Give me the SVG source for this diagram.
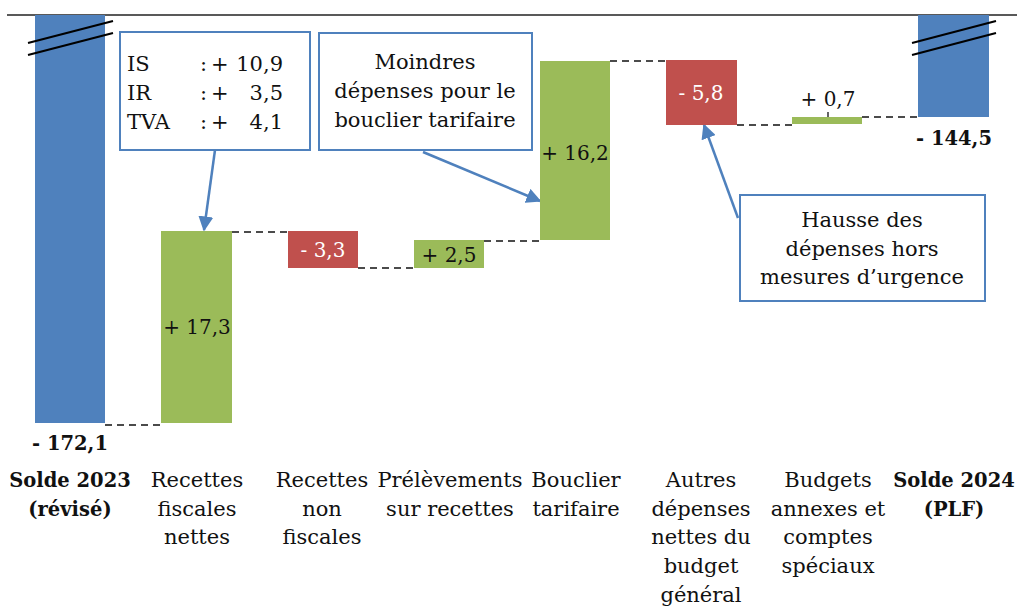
<svg xmlns="http://www.w3.org/2000/svg" width="1017" height="608" viewBox="0 0 1017 608">
<style>
text{font-family:"DejaVu Serif","Liberation Serif",serif;font-size:21px;fill:#111}
.v{font-size:20px}
.c{text-anchor:middle}
.b{font-weight:bold;font-size:19.5px}
.w{fill:#fff}
.blue{fill:#4F81BD}
.green{fill:#9BBB59}
.red{fill:#C0504D}
.dash{stroke:#111;stroke-width:1.3;stroke-dasharray:7,5;fill:none}
.brk{stroke:#000;stroke-width:2.2}
.box{fill:#fff;stroke:#4F81BD;stroke-width:2}
.arr{stroke:#4F81BD;stroke-width:2.5;fill:none;marker-end:url(#ah)}
</style>
<defs>
<marker id="ah" viewBox="0 0 10 10" refX="9" refY="5" markerWidth="6" markerHeight="6" orient="auto" markerUnits="strokeWidth">
<path d="M0,0 L10,5 L0,10 z" fill="#4F81BD"/>
</marker>
</defs>
<rect width="1017" height="608" fill="#fff"/>
<line x1="7" y1="15" x2="1017" y2="15" stroke="#222" stroke-width="1.5"/>

<g id="connectors">
<line class="dash" x1="105" y1="425" x2="161" y2="425"/>
<line class="dash" x1="232" y1="232" x2="288" y2="232"/>
<line class="dash" x1="358" y1="268" x2="414" y2="268"/>
<line class="dash" x1="484" y1="241" x2="540" y2="241"/>
<line class="dash" x1="610" y1="61" x2="666" y2="61"/>
<line class="dash" x1="737" y1="125" x2="792" y2="125"/>
<line class="dash" x1="862" y1="117" x2="918" y2="117"/>
<line x1="828" y1="112" x2="828" y2="120" stroke="#111" stroke-width="1.3"/>
<line class="arr" x1="215" y1="150" x2="204" y2="230"/>
<line class="arr" x1="423" y1="152" x2="540" y2="201"/>
<line class="arr" x1="738" y1="218" x2="704" y2="125"/>
</g>

<g id="bar-solde2023">
<rect class="blue" x="35" y="15" width="70" height="408"/>
<line class="brk" x1="28" y1="43" x2="113" y2="21"/>
<line class="brk" x1="28" y1="55" x2="113" y2="33"/>
<text class="c b" x="70" y="450">- 172,1</text>
<text class="c b" x="70" y="487">Solde 2023</text>
<text class="c b" x="70" y="516">(révisé)</text>
</g>

<g id="bar-recettes-fiscales">
<rect class="green" x="161" y="231" width="71" height="192"/>
<text class="c v" x="197" y="334">+ 17,3</text>
<text class="c" x="197" y="487">Recettes</text>
<text class="c" x="197" y="516">fiscales</text>
<text class="c" x="197" y="544">nettes</text>
</g>

<g id="bar-recettes-non-fiscales">
<rect class="red" x="288" y="231" width="70" height="37"/>
<text class="c w v" x="323" y="257">- 3,3</text>
<text class="c" x="322" y="487">Recettes</text>
<text class="c" x="322" y="516">non</text>
<text class="c" x="322" y="544">fiscales</text>
</g>

<g id="bar-prelevements">
<rect class="green" x="414" y="240" width="70" height="28"/>
<text class="c v" x="449" y="262">+ 2,5</text>
<text class="c" x="450" y="487">Prélèvements</text>
<text class="c" x="450" y="516">sur recettes</text>
</g>

<g id="bar-bouclier">
<rect class="green" x="540" y="61" width="70" height="179"/>
<text class="c v" x="575" y="160">+ 16,2</text>
<text class="c" x="576" y="487">Bouclier</text>
<text class="c" x="576" y="516">tarifaire</text>
</g>

<g id="bar-autres-depenses">
<rect class="red" x="666" y="60" width="71" height="65"/>
<text class="c w v" x="701" y="100">- 5,8</text>
<text class="c" x="701" y="487">Autres</text>
<text class="c" x="701" y="516">dépenses</text>
<text class="c" x="701" y="544">nettes du</text>
<text class="c" x="701" y="573">budget</text>
<text class="c" x="701" y="602">général</text>
</g>

<g id="bar-budgets-annexes">
<rect class="green" x="792" y="117" width="70" height="7"/>
<text class="c v" x="828" y="106">+ 0,7</text>
<text class="c" x="828" y="487">Budgets</text>
<text class="c" x="828" y="516">annexes et</text>
<text class="c" x="828" y="544">comptes</text>
<text class="c" x="828" y="573">spéciaux</text>
</g>

<g id="bar-solde2024">
<rect class="blue" x="918" y="15" width="71" height="102"/>
<line class="brk" x1="912" y1="43" x2="996" y2="21"/>
<line class="brk" x1="912" y1="55" x2="996" y2="33"/>
<text class="c b" x="954" y="145">- 144,5</text>
<text class="c b" x="954" y="487">Solde 2024</text>
<text class="c b" x="954" y="516">(PLF)</text>
</g>

<g id="callout-impots">
<rect class="box" x="120" y="32" width="190" height="118"/>
<text x="127" y="71">IS</text>
<text x="127" y="100">IR</text>
<text x="127" y="129">TVA</text>
<text x="200" y="71">:</text>
<text x="200" y="100">:</text>
<text x="200" y="129">:</text>
<text x="211" y="71">+</text>
<text x="211" y="100">+</text>
<text x="211" y="129">+</text>
<text x="283" y="71" text-anchor="end">10,9</text>
<text x="283" y="100" text-anchor="end">3,5</text>
<text x="283" y="129" text-anchor="end">4,1</text>
</g>

<g id="callout-bouclier">
<rect class="box" x="319" y="33" width="213" height="117"/>
<text class="c" x="425" y="69">Moindres</text>
<text class="c" x="425" y="98">dépenses pour le</text>
<text class="c" x="425" y="127">bouclier tarifaire</text>
</g>

<g id="callout-hausse">
<rect class="box" x="740" y="195" width="245" height="106"/>
<text class="c" x="862" y="227">Hausse des</text>
<text class="c" x="862" y="256">dépenses hors</text>
<text class="c" x="862" y="284">mesures d’urgence</text>
</g>
</svg>
